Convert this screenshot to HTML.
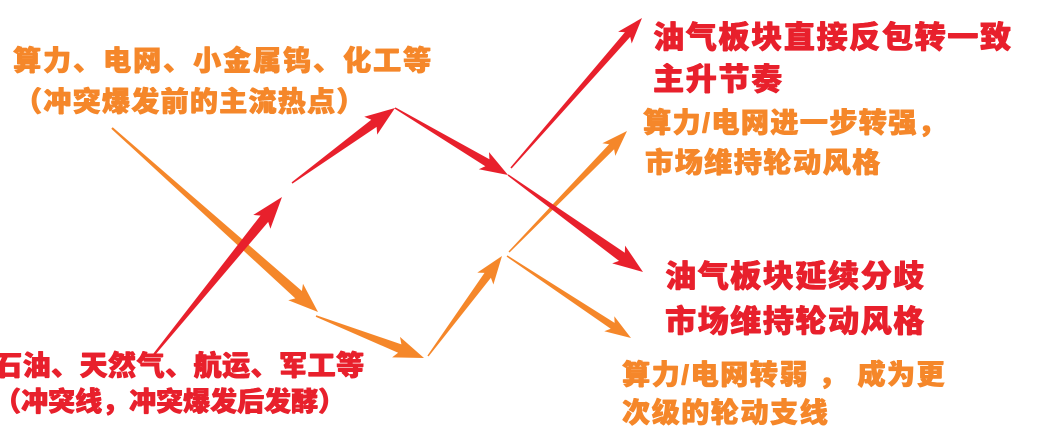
<!DOCTYPE html>
<html><head><meta charset="utf-8"><style>
html,body{margin:0;padding:0;background:#fff;}
#c{position:relative;width:1041px;height:447px;overflow:hidden;background:#fff;}
.t{position:absolute;white-space:nowrap;font-family:"Liberation Sans","Noto Sans CJK SC",sans-serif;font-weight:900;line-height:1;}
.r{color:#e8202c;text-shadow:0.6px 0 0 #e8202c,-0.4px 0 0 #e8202c,0 0.5px 0 #e8202c;}
.o{color:#f5872a;text-shadow:0.6px 0 0 #f5872a,-0.4px 0 0 #f5872a,0 0.5px 0 #f5872a;}
svg{position:absolute;left:0;top:0;}
</style></head><body><div id="c">
<svg id="s" width="1041" height="447" viewBox="0 0 1041 447"></svg>
<div class="t o" style="left:13px;top:47px;font-size:28px;letter-spacing:2px;">算力、电网、小金属钨、化工等</div>
<div class="t o" style="left:14px;top:88px;font-size:28px;letter-spacing:1.3px;">（冲突爆发前的主流热点）</div>
<div class="t r" style="left:-6px;top:352px;font-size:28px;letter-spacing:0.5px;">石油、天然气、航运、军工等</div>
<div class="t r" style="left:-6px;top:389px;font-size:27px;">（冲突线，冲突爆发后发酵）</div>
<div class="t r" style="left:653px;top:22px;font-size:31px;letter-spacing:1.7px;">油气板块直接反包转一致</div>
<div class="t r" style="left:653px;top:64px;font-size:31px;letter-spacing:1.7px;">主升节奏</div>
<div class="t o" style="left:643px;top:109px;font-size:28px;letter-spacing:1.5px;">算力/电网进一步转强，</div>
<div class="t o" style="left:645px;top:149px;font-size:28px;letter-spacing:1.6px;">市场维持轮动风格</div>
<div class="t r" style="left:665px;top:261px;font-size:31px;letter-spacing:1.6px;">油气板块延续分歧</div>
<div class="t r" style="left:665px;top:306px;font-size:31px;letter-spacing:1.6px;">市场维持轮动风格</div>
<div class="t o" style="left:622px;top:361px;font-size:28px;letter-spacing:1.6px;">算力/电网转弱 ， 成为更</div>
<div class="t o" style="left:622px;top:399px;font-size:28px;letter-spacing:1.6px;">次级的轮动支线</div>
</div>
<script>
var s=document.getElementById('s');
function arr(x0,y0,x1,y1,c,w0,w1,hw,hl){
 var dx=x1-x0,dy=y1-y0,L=Math.hypot(dx,dy),ux=dx/L,uy=dy/L,px=-uy,py=ux;
 var bx=x1-ux*hl,by=y1-uy*hl;
 var pts=[[x0+px*w0/2,y0+py*w0/2],[bx+px*w1/2,by+py*w1/2],[bx-ux*4+px*hw/2,by-uy*4+py*hw/2],[x1,y1],[bx-ux*4-px*hw/2,by-uy*4-py*hw/2],[bx-px*w1/2,by-py*w1/2],[x0-px*w0/2,y0-py*w0/2]];
 var p=document.createElementNS('http://www.w3.org/2000/svg','polygon');
 p.setAttribute('points',pts.map(function(a){return a[0].toFixed(1)+','+a[1].toFixed(1)}).join(' '));
 p.setAttribute('fill',c);s.appendChild(p);
}
var R='#e8202c',O='#f5872a';
arr(112,128,318,312,O,2,10,22,26);
arr(316,316,424,358,O,1.5,9,22,26);
arr(428,356,502,256,O,1.5,8,20,24);
arr(509,252,627,131,O,1.5,7,18,22);
arr(507,256,631,338,O,1.5,7,18,22);
arr(152,357,282,197,R,2,10,22,28);
arr(292,183,395,108,R,1.5,9,22,26);
arr(395,108,508,175,R,1.5,8,20,24);
arr(508,175,643,272,R,1.5,10,22,26);
arr(511,168,642,18,R,1.5,7,18,22);
</script>
</body></html>
